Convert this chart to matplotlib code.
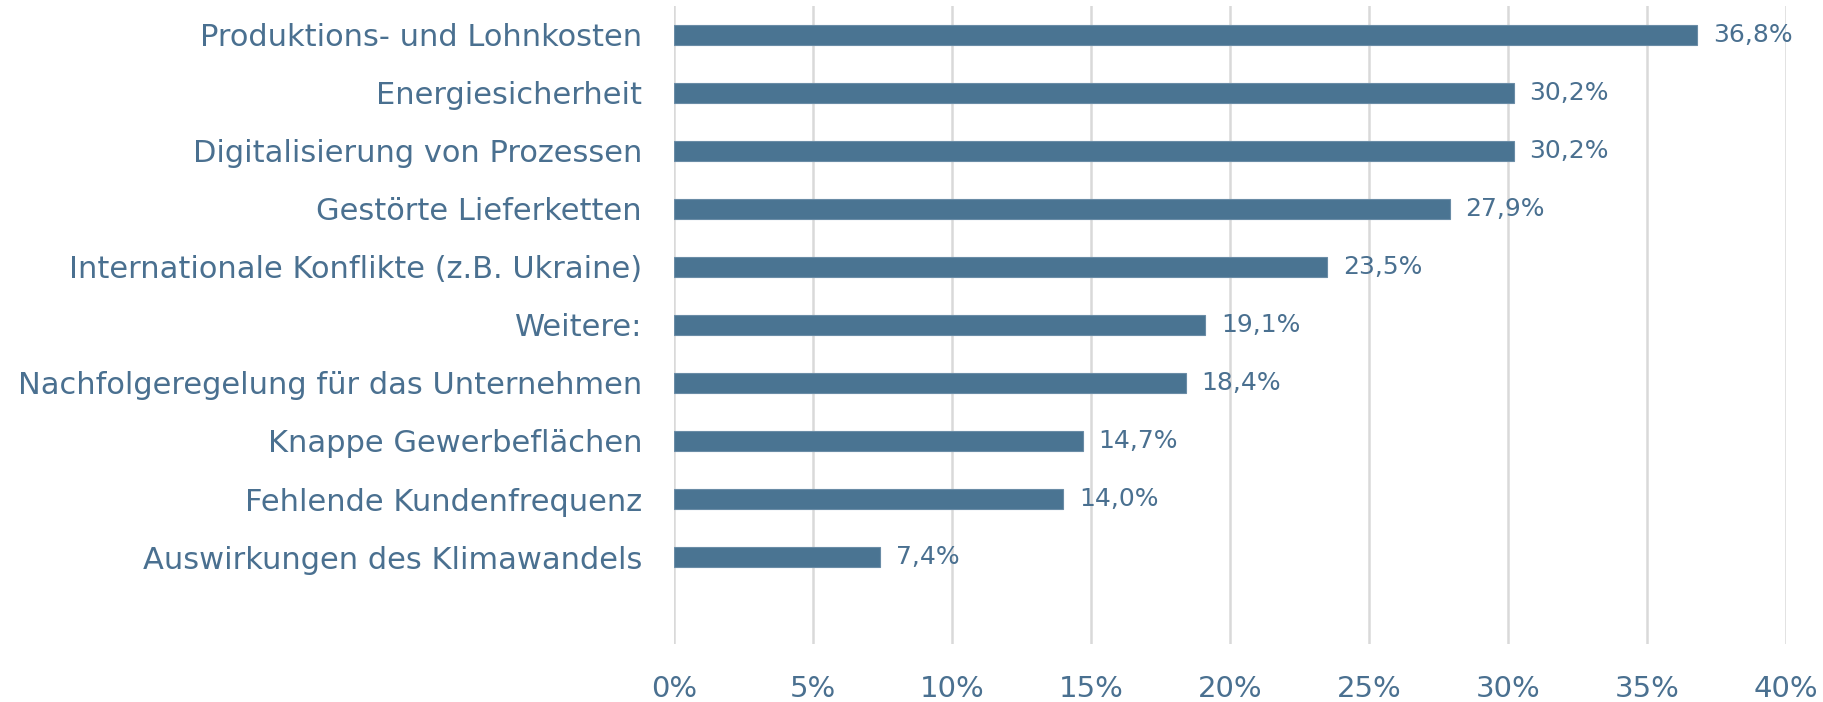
import matplotlib
matplotlib.use("Agg")
import matplotlib.pyplot as plt

categories = [
    "Produktions- und Lohnkosten",
    "Energiesicherheit",
    "Digitalisierung von Prozessen",
    "Gestörte Lieferketten",
    "Internationale Konflikte (z.B. Ukraine)",
    "Weitere:",
    "Nachfolgeregelung für das Unternehmen",
    "Knappe Gewerbeflächen",
    "Fehlende Kundenfrequenz",
    "Auswirkungen des Klimawandels",
]
values = [36.8, 30.2, 30.2, 27.9, 23.5, 19.1, 18.4, 14.7, 14.0, 7.4]
xticks = [0, 5, 10, 15, 20, 25, 30, 35, 40]
xtick_labels = ["0%", "5%", "10%", "15%", "20%", "25%", "30%", "35%", "40%"]

bar_color = "#4a7492"
text_color = "#4a7090"
grid_color = "#d9d9d9"

plt.rcParams["font.family"] = ["DejaVu Sans"]

fig = plt.figure(figsize=(18.24, 7.02), dpi=100)
ax = fig.add_axes([0.3695, 0.0826, 0.6097, 0.9089])

pos = list(range(len(categories)))
ax.barh(pos, values, height=0.356, color=bar_color, edgecolor="#6a8ca6",
        linewidth=0.8, zorder=3)

for p, v in zip(pos, values):
    ax.annotate(f"{v:.1f}%".replace(".", ","), xy=(v, p), xytext=(11.5, 0),
                textcoords="offset points", va="center", ha="left",
                fontsize=18, color=text_color)

ax.set_xlim(0, 40)
ax.set_ylim(10.5, -0.5)
ax.set_xticks(xticks)
ax.set_xticklabels(xtick_labels)
ax.set_yticks(pos)
ax.set_yticklabels(categories)

ax.tick_params(axis="x", length=0, pad=22, labelsize=21, labelcolor=text_color)
ax.tick_params(axis="y", length=0, pad=23, labelsize=22.0, labelcolor=text_color)

ax.grid(axis="x", color=grid_color, linewidth=1.8, zorder=0)
ax.grid(axis="y", visible=False)
for s in ax.spines.values():
    s.set_visible(False)

fig.savefig("out.png", dpi=100, facecolor="white")
